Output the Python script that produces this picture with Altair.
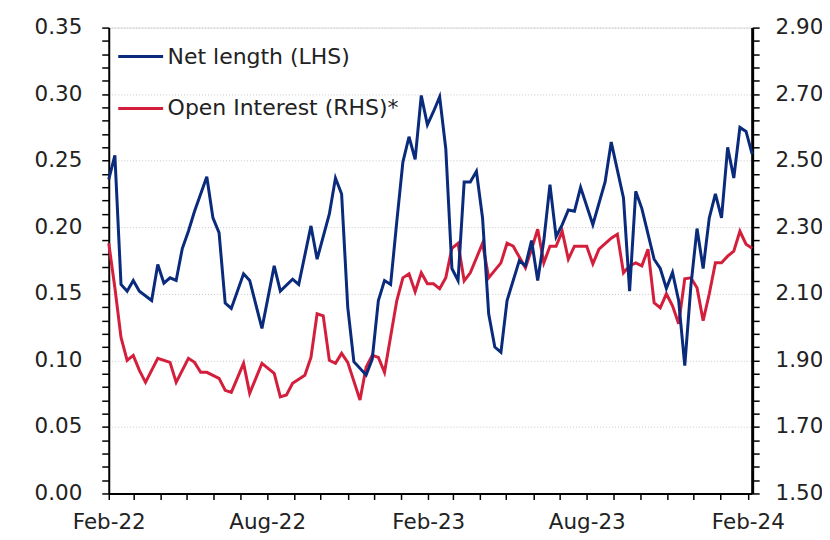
import altair as alt
import pandas as pd

start = "2022-02-01"  # weekly (Tuesday) observations

net_weeks = [0, 1, 2, 3, 4, 5, 7, 8, 9, 10, 11, 12, 13, 14, 16, 17, 18, 19, 20, 22, 23, 25, 27, 28, 30, 31,
             33, 34, 36, 37, 38, 39, 40, 42, 43, 44, 45, 46, 47, 48, 49, 50, 51, 52, 53, 54, 55, 56, 57, 58,
             59, 60, 61, 62, 63, 64, 65, 67, 68, 69, 70, 71, 72, 73, 74, 75, 76, 77, 79, 81, 82, 84, 85, 86,
             87, 89, 90, 91, 92, 93, 94, 95, 96, 97, 98, 99, 100, 101, 102, 103, 104, 105]
net_values = [0.236, 0.254, 0.157, 0.152, 0.160, 0.152, 0.145, 0.172, 0.158, 0.162, 0.160, 0.184, 0.197,
              0.212, 0.238, 0.207, 0.196, 0.143, 0.139, 0.165, 0.160, 0.124, 0.171, 0.152, 0.161, 0.157,
              0.201, 0.176, 0.210, 0.237, 0.225, 0.140, 0.099, 0.089, 0.101, 0.145, 0.160, 0.157, 0.204,
              0.249, 0.268, 0.251, 0.299, 0.277, 0.287, 0.298, 0.259, 0.169, 0.160, 0.234, 0.234, 0.242,
              0.207, 0.135, 0.110, 0.106, 0.145, 0.175, 0.171, 0.190, 0.160, 0.190, 0.232, 0.193, 0.202,
              0.213, 0.212, 0.230, 0.202, 0.234, 0.264, 0.222, 0.152, 0.227, 0.214, 0.176, 0.169, 0.154,
              0.166, 0.145, 0.096, 0.156, 0.199, 0.169, 0.207, 0.225, 0.207, 0.260, 0.237, 0.275, 0.272,
              0.255]

oi_weeks = [0, 1, 2, 3, 4, 5, 6, 8, 10, 11, 13, 14, 15, 16, 18, 19, 20, 22, 23, 25, 27, 28, 29, 30, 32, 33,
            34, 35, 36, 37, 38, 39, 41, 42, 43, 44, 45, 47, 48, 49, 50, 51, 52, 53, 54, 55, 56, 57, 58, 59,
            61, 62, 64, 65, 66, 68, 69, 70, 71, 72, 73, 74, 75, 76, 78, 79, 80, 82, 83, 84, 85, 86, 87, 88,
            89, 90, 91, 92, 93, 94, 95, 96, 97, 98, 99, 100, 101, 102, 103, 104, 105]
oi_values = [2.252, 2.118, 1.969, 1.900, 1.915, 1.870, 1.834, 1.906, 1.894, 1.834, 1.906, 1.894, 1.864,
             1.864, 1.846, 1.810, 1.804, 1.891, 1.801, 1.891, 1.861, 1.790, 1.796, 1.831, 1.855, 1.909,
             2.040, 2.034, 1.900, 1.891, 1.921, 1.894, 1.781, 1.879, 1.915, 1.909, 1.864, 2.079, 2.148,
             2.160, 2.106, 2.163, 2.130, 2.130, 2.115, 2.148, 2.237, 2.252, 2.139, 2.163, 2.252, 2.148,
             2.193, 2.252, 2.243, 2.178, 2.234, 2.294, 2.193, 2.243, 2.243, 2.288, 2.204, 2.243, 2.243,
             2.190, 2.234, 2.267, 2.279, 2.163, 2.184, 2.193, 2.184, 2.234, 2.073, 2.058, 2.100, 2.064,
             2.010, 2.145, 2.148, 2.118, 2.019, 2.100, 2.193, 2.193, 2.213, 2.228, 2.288, 2.249, 2.237]

series_names = ["Net length (LHS)", "Open Interest (RHS)*"]
series_colors = ["#0a2b7c", "#d41f3c"]

x_domain = ["2022-02-01", "2024-02-06"]
left_domain = [0.0, 0.35]
right_domain = [1.5, 2.9]


def to_dates(weeks):
    return [(pd.Timestamp(start) + pd.Timedelta(days=7 * w)).strftime("%Y-%m-%d") for w in weeks]


net_df = pd.DataFrame({"date": to_dates(net_weeks), "value": net_values, "series": series_names[0]})
oi_df = pd.DataFrame({"date": to_dates(oi_weeks), "value": oi_values, "series": series_names[1]})
df = pd.concat([net_df, oi_df], ignore_index=True)

FONT = "DejaVu Sans"
TXT = "#222222"
AX_FS = 21.5

x_enc = alt.X(
    "date:T",
    scale=alt.Scale(domain=x_domain),
    axis=alt.Axis(
        title=None,
        tickCount={"interval": "month", "step": 1},
        labelExpr="(month(datum.value) % 6 == 1) ? timeFormat(datum.value, '%b-%y') : ''",
        labelOverlap=False,
        labelFlush=False,
        grid=False,
        domainColor="black",
        domainWidth=2,
        tickColor="black",
        tickWidth=1.5,
        tickSize=6,
        labelPadding=12,
        labelFontSize=AX_FS,
        labelFont=FONT,
        labelColor=TXT,
    ),
)

color_enc = alt.Color(
    "series:N",
    scale=alt.Scale(domain=series_names, range=series_colors),
    legend=alt.Legend(
        title=None,
        orient="none",
        legendX=8,
        legendY=5,
        symbolType="stroke",
        symbolSize=2025,
        symbolStrokeWidth=3,
        labelFontSize=22,
        labelFont=FONT,
        labelColor=TXT,
        labelOffset=3,
        labelLimit=500,
        rowPadding=17,
        padding=0,
    ),
)

left_ticks = [round(i * 0.01, 2) for i in range(36)]
right_ticks = [round(1.5 + i * 0.04, 2) for i in range(36)]

net_line = alt.Chart(df).transform_filter(
    alt.datum.series == series_names[0]
).mark_line(strokeWidth=3).encode(
    x=x_enc,
    y=alt.Y(
        "value:Q",
        scale=alt.Scale(domain=left_domain, nice=False, zero=False),
        axis=alt.Axis(
            title=None,
            orient="left",
            values=left_ticks,
            labelExpr="(round(datum.value * 100) % 5 == 0) ? format(datum.value, '.2f') : ''",
            grid=True,
            gridColor="#c8c8c8",
            gridDash=[1, 2],
            gridOpacity={"condition": {"test": "round(datum.value * 100) % 5 == 0", "value": 1}, "value": 0},
            domainColor="black",
            domainWidth=2,
            tickColor="black",
            tickWidth=1.5,
            tickSize=7,
            labelPadding=20,
            labelFontSize=AX_FS,
            labelFont=FONT,
            labelColor=TXT,
            labelOverlap=False,
        ),
    ),
    color=color_enc,
)

oi_line = alt.Chart(df).transform_filter(
    alt.datum.series == series_names[1]
).mark_line(strokeWidth=3).encode(
    x=x_enc,
    y=alt.Y(
        "value:Q",
        scale=alt.Scale(domain=right_domain, nice=False, zero=False),
        axis=alt.Axis(
            title=None,
            orient="right",
            values=right_ticks,
            labelExpr="(round((datum.value - 1.5) * 100) % 20 == 0) ? format(datum.value, '.2f') : ''",
            grid=False,
            domainColor="black",
            domainWidth=3,
            tickColor="black",
            tickWidth=1.5,
            tickSize=7,
            labelPadding=16,
            labelFontSize=AX_FS,
            labelFont=FONT,
            labelColor=TXT,
            labelOverlap=False,
        ),
    ),
    color=color_enc,
)

chart = alt.layer(oi_line, net_line).resolve_scale(y="independent").properties(
    width=645,
    height=467,
    autosize=alt.AutoSizeParams(type="none"),
    padding={"left": 101, "top": 19, "right": 70, "bottom": 44},
).configure_view(stroke=None).configure(background="white")

chart.save("out.html", embed_options={"renderer": "svg", "actions": False})
